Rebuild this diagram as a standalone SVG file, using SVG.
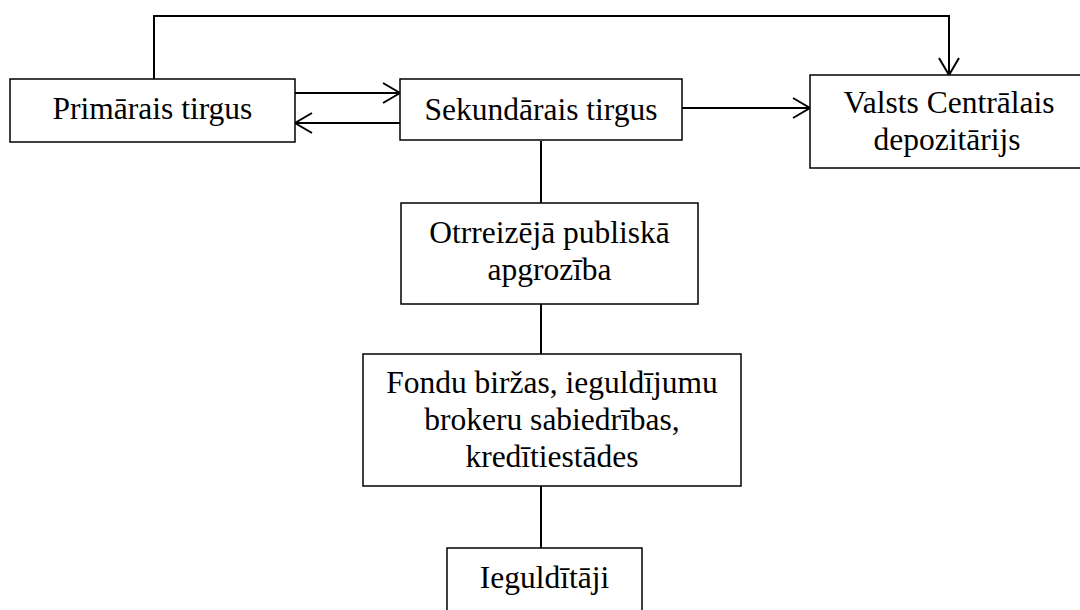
<svg xmlns="http://www.w3.org/2000/svg" width="1080" height="610" viewBox="0 0 1080 610">
  <style>
    .box { fill: #ffffff; stroke: #000000; stroke-width: 1.5; }
    .lbl { font-family: "Liberation Serif", "Times New Roman", serif; font-size: 31.5px; fill: #000000; text-anchor: middle; }
    .link { fill: none; stroke: #000000; stroke-width: 2; }
  </style>
  <defs>
    <marker id="open-arrow" markerUnits="userSpaceOnUse" markerWidth="22" markerHeight="24" refX="18" refY="11" orient="auto" viewBox="0 0 22 24">
      <path d="M1,1 L18,11 L1,21" fill="none" stroke="#000000" stroke-width="2"/>
    </marker>
  </defs>
  <rect width="1080" height="610" fill="#ffffff"/>

  <!-- connectors -->
  <g id="connectors">
    <path class="link" d="M154,79 V16 H949 V75" marker-end="url(#open-arrow)"/>
    <path class="link" d="M295,93 H400" marker-end="url(#open-arrow)"/>
    <path class="link" d="M400,123 H295" marker-end="url(#open-arrow)"/>
    <path class="link" d="M682,108 H810" marker-end="url(#open-arrow)"/>
    <path class="link" d="M541,141 V203"/>
    <path class="link" d="M541,304 V354"/>
    <path class="link" d="M541,486 V548"/>
  </g>

  <!-- nodes -->
  <g id="primary-market">
    <rect class="box" x="10" y="79" width="285" height="63"/>
    <text class="lbl" x="152.5" y="119">Primārais tirgus</text>
  </g>
  <g id="secondary-market">
    <rect class="box" x="400" y="79" width="282" height="61"/>
    <text class="lbl" x="541" y="120">Sekundārais tirgus</text>
  </g>
  <g id="central-depository">
    <rect class="box" x="810" y="75" width="290" height="93"/>
    <text class="lbl" x="949" y="113">Valsts Centrālais</text>
    <text class="lbl" x="947" y="150">depozitārijs</text>
  </g>
  <g id="public-circulation">
    <rect class="box" x="401" y="203" width="297" height="101"/>
    <text class="lbl" x="549.5" y="243">Otrreizējā publiskā</text>
    <text class="lbl" x="549.5" y="280">apgrozība</text>
  </g>
  <g id="intermediaries">
    <rect class="box" x="363" y="354" width="378" height="132"/>
    <text class="lbl" x="552" y="393">Fondu biržas, ieguldījumu</text>
    <text class="lbl" x="552" y="430">brokeru sabiedrības,</text>
    <text class="lbl" x="552" y="467">kredītiestādes</text>
  </g>
  <g id="investors">
    <rect class="box" x="447" y="548" width="195" height="70"/>
    <text class="lbl" x="544.5" y="588">Ieguldītāji</text>
  </g>
</svg>
